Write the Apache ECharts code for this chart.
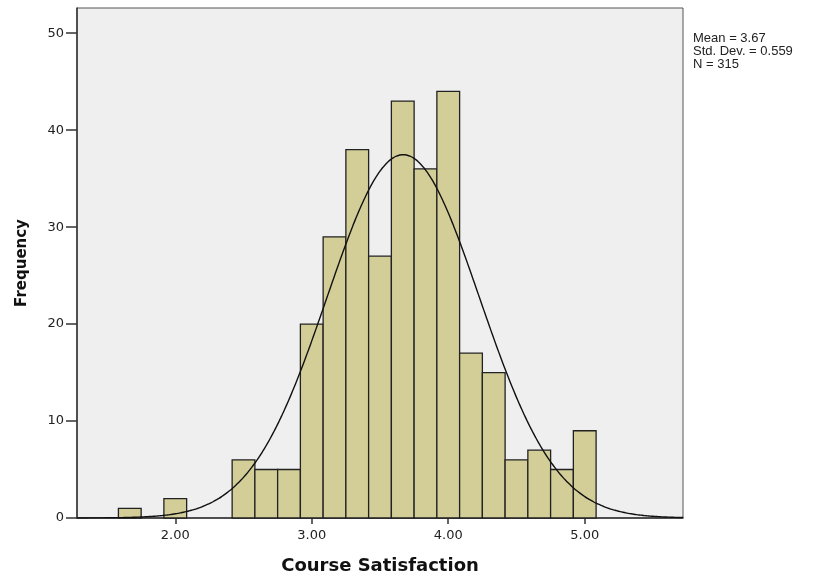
<!DOCTYPE html>
<html><head><meta charset="utf-8">
<script src="https://cdn.jsdelivr.net/npm/echarts@6/dist/echarts.min.js"></script>
<style>html,body{margin:0;padding:0;background:#fff}#c{width:820px;height:577px}</style>
</head><body><div id="c"></div>
<script>
// Bin centers (bin width 1/6) and frequencies
const binCenters = [1.6667, 1.8333, 2.0, 2.1667, 2.3333, 2.5, 2.6667, 2.8333, 3.0, 3.1667, 3.3333, 3.5, 3.6667, 3.8333, 4.0, 4.1667, 4.3333, 4.5, 4.6667, 4.8333, 5.0];
const frequencies = [1, 0, 2, 0, 0, 6, 5, 5, 20, 29, 38, 27, 43, 36, 44, 17, 15, 6, 7, 5, 9];
const binWidth = 1/6;
const xTicks = [2, 3, 4, 5];
const yTicks = [0, 10, 20, 30, 40, 50];
const statMean = 3.67, statSD = 0.559, statN = 315;
const statLines = ['Mean = 3.67', 'Std. Dev. = 0.559', 'N = 315'];

const barData = binCenters.map((c, i) => [c, frequencies[i]]).filter(d => d[1] > 0);
// Normal curve overlay from the stated Mean, Std. Dev. and N
const curve = [];
for (let x = 1.28; x <= 5.7201; x += 0.02) {
  const z = (x - statMean) / statSD;
  curve.push([x, statN * binWidth * Math.exp(-0.5 * z * z) / (statSD * Math.sqrt(2 * Math.PI))]);
}

const chart = echarts.init(document.getElementById('c'));
const font = 'DejaVu Sans, sans-serif';
const font2 = 'Liberation Sans, Arial, sans-serif';
chart.setOption({
  animation: false,
  grid: { left: 77, right: 137, top: 8, bottom: 59, outerBoundsMode: 'none', containLabel: false, show: true, backgroundColor: '#efefef', borderColor: '#555', borderWidth: 1 },
  xAxis: {
    type: 'value', min: 1.28, max: 5.72,
    name: 'Course Satisfaction', nameLocation: 'middle', nameGap: 39,
    nameTextStyle: { fontFamily: font, fontWeight: 'bold', fontSize: 18, color: '#111' },
    axisLine: { lineStyle: { color: '#333', width: 1.5 } },
    axisTick: { customValues: xTicks, length: 6, lineStyle: { color: '#333', width: 1.5 } },
    axisLabel: { customValues: xTicks, formatter: v => v.toFixed(2), fontFamily: font, fontSize: 13, color: '#222', margin: 11 },
    splitLine: { show: false }
  },
  yAxis: {
    type: 'value', min: 0, max: 52.6,
    name: 'Frequency', nameLocation: 'middle', nameGap: 47, nameRotate: 90,
    nameTextStyle: { fontFamily: font, fontWeight: 'bold', fontSize: 15, color: '#111' },
    axisLine: { show: true, lineStyle: { color: '#333', width: 1.5 } },
    axisTick: { show: true, customValues: yTicks, length: 11, lineStyle: { color: '#333', width: 1.5 } },
    axisLabel: { customValues: yTicks, fontFamily: font, fontSize: 13, color: '#222', margin: 13 },
    splitLine: { show: false }
  },
  graphic: statLines.map((t, i) => ({
    type: 'text', left: 693, top: 32 + i * 13,
    style: { text: t, font: '13px ' + font2, fill: '#222' }
  })),
  series: [
    {
      type: 'custom',
      data: barData,
      renderItem: (params, api) => {
        const c = api.value(0), v = api.value(1);
        const p0 = api.coord([c - binWidth / 2, 0]);
        const p1 = api.coord([c + binWidth / 2, v]);
        return {
          type: 'rect',
          shape: { x: p0[0], y: p1[1], width: p1[0] - p0[0], height: p0[1] - p1[1] },
          style: { fill: '#d3ce97', stroke: '#222', lineWidth: 1.3 }
        };
      }
    },
    {
      type: 'line', data: curve, showSymbol: false, smooth: true,
      lineStyle: { color: '#111', width: 1.4 }, z: 5
    }
  ]
});
</script></body></html>
